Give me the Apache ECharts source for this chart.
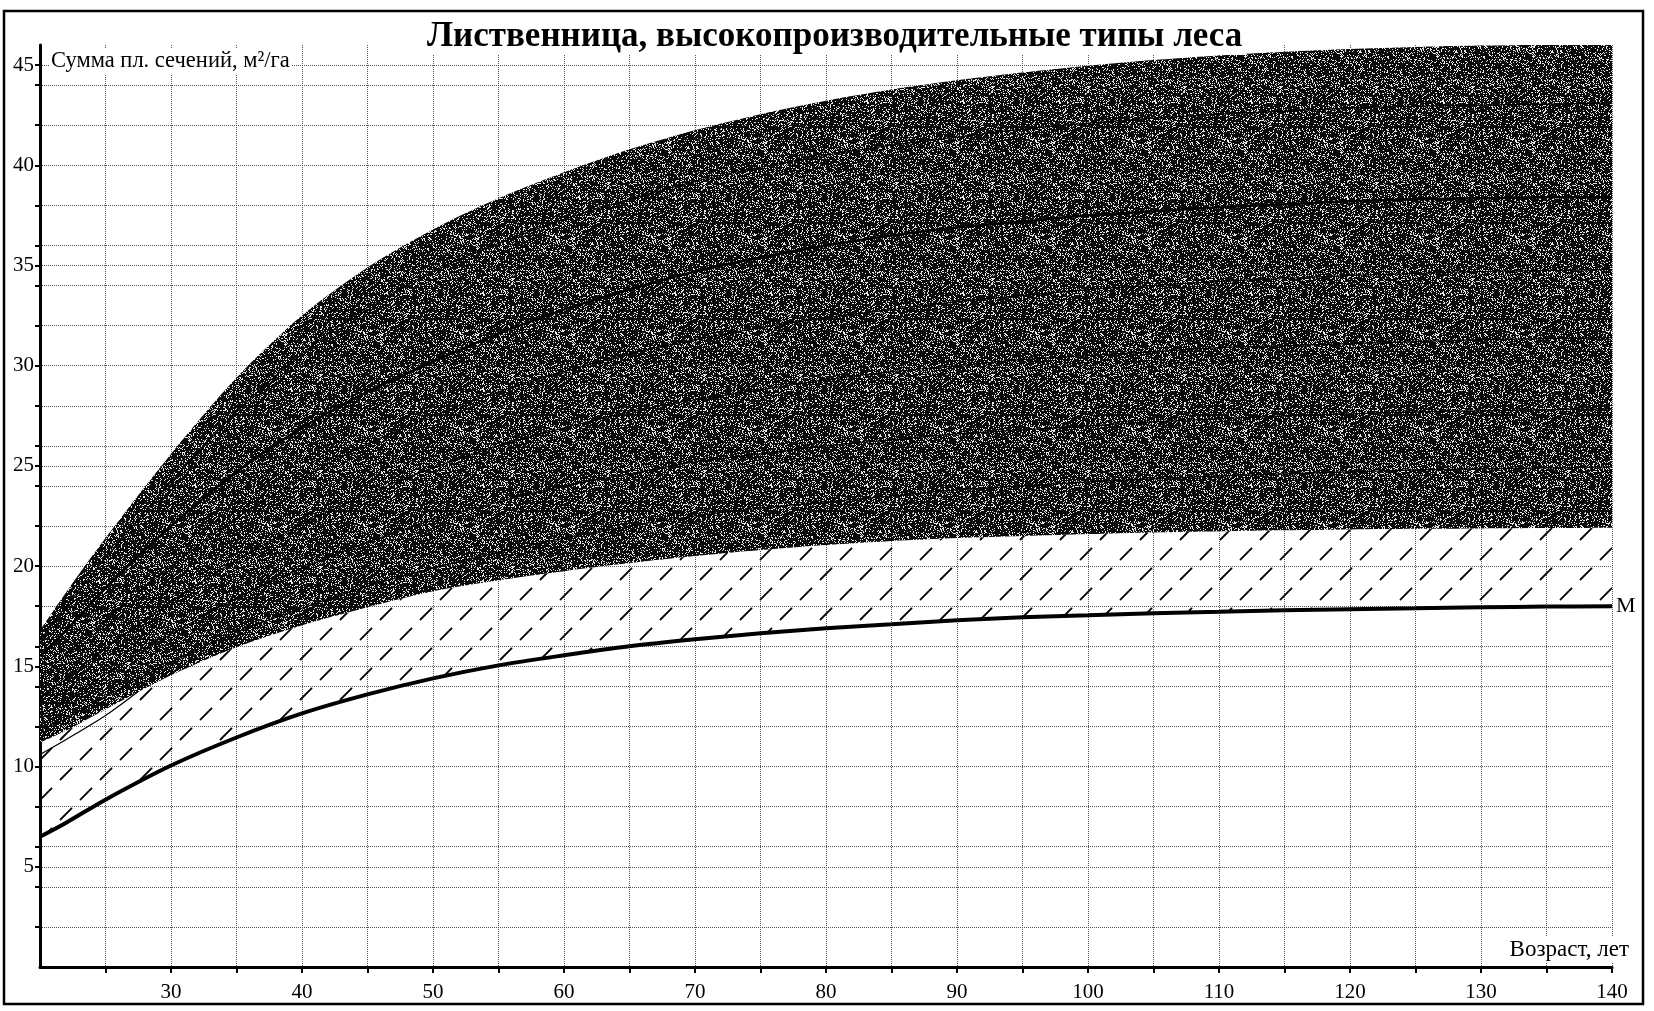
<!DOCTYPE html>
<html><head><meta charset="utf-8">
<script src="https://cdn.jsdelivr.net/npm/echarts@6/dist/echarts.min.js"></script>
<style>html,body{margin:0;padding:0;background:#fff}#c{width:1654px;height:1011px}</style>
</head><body><div id="c"></div>
<script>
// ---- data ----
const ages = [20,22,25,30,35,40,45,50,55,60,65,70,75,80,85,90,95,100,105,110,115,120,125,130,135,140];
const valueM    = [6.5,7.2,8.35,10.05,11.45,12.65,13.6,14.4,15.05,15.55,16.0,16.35,16.65,16.9,17.1,17.3,17.45,17.55,17.65,17.72,17.8,17.85,17.9,17.95,17.98,18.0];
const darkLower = [11.2,11.8,12.85,14.55,15.95,17.05,17.95,18.75,19.3,19.75,20.15,20.5,20.8,21.05,21.25,21.4,21.5,21.6,21.68,21.74,21.79,21.83,21.86,21.88,21.9,21.92];
const darkUpper = [16.8,18.7,21.4,25.6,29.4,32.5,34.9,36.8,38.35,39.65,40.8,41.75,42.55,43.22,43.78,44.24,44.63,44.97,45.25,45.48,45.66,45.8,45.9,45.97,46.0,46.0];
const curve1    = [16.3,18.0,20.4,24.2,27.7,30.6,32.9,34.7,36.1,37.3,38.3,39.2,39.9,40.5,41.0,41.4,41.8,42.1,42.35,42.55,42.7,42.85,42.95,43.0,43.05,43.1];
const curveMain = [15.5,16.8,18.9,22.0,24.7,26.9,28.7,30.2,31.6,32.8,33.8,34.7,35.4,36.0,36.5,36.9,37.2,37.5,37.7,37.9,38.05,38.2,38.3,38.35,38.4,38.4];
const curve3    = [14.4,15.6,17.3,20.0,22.4,24.4,26.1,27.5,28.7,29.7,30.6,31.3,31.9,32.4,32.8,33.2,33.5,33.8,34.0,34.2,34.35,34.5,34.6,34.7,34.75,34.8];
const curve4    = [13.4,14.4,15.9,18.2,20.3,22.1,23.6,24.9,26.0,26.9,27.7,28.3,28.8,29.3,29.7,30.0,30.3,30.5,30.7,30.9,31.0,31.1,31.2,31.3,31.35,31.4];
const curve5    = [12.5,13.3,14.6,16.6,18.4,19.9,21.2,22.3,23.2,24.0,24.6,25.2,25.6,26.0,26.3,26.6,26.8,27.0,27.2,27.35,27.5,27.6,27.7,27.75,27.8,27.85];
const curve6    = [11.8,12.4,13.5,15.2,16.7,17.9,19.0,19.9,20.7,21.4,22.0,22.5,22.9,23.2,23.5,23.8,24.0,24.2,24.35,24.5,24.6,24.7,24.8,24.85,24.9,24.95];
const thinAges  = [20,22,25,27.5];
const thinVals  = [10.6,11.35,12.55,13.75];
const xLabelValues = [30,40,50,60,70,80,90,100,110,120,130,140];
const xTickValues  = [25,30,35,40,45,50,55,60,65,70,75,80,85,90,95,100,105,110,115,120,125,130,135,140];
const yLabelValues = [5,10,15,20,25,30,35,40,45];
const yTickValues  = [2,4,5,6,8,10,12,14,15,16,18,20,22,24,25,26,28,30,32,34,35,36,38,40,42,44,45];

// ---- fill patterns (style only) ----
function hatchPattern(){
  const c=document.createElement('canvas');c.width=40;c.height=40;
  const g=c.getContext('2d');
  g.strokeStyle='#000';g.lineWidth=1.8;g.setLineDash([17,11.284]);
  [0,40,80].forEach(cc=>{g.beginPath();g.moveTo(-40,cc+40);g.lineTo(80,cc-80);g.stroke();});
  return c;
}
function darkPattern(){
  const n=96,c=document.createElement('canvas');c.width=n;c.height=n;
  const g=c.getContext('2d');const im=g.createImageData(n,n);
  for(let y=0;y<n;y++)for(let x=0;x<n;x++){
    let h=(x*374761393+y*668265263)|0;h=Math.imul(h^(h>>>13),1274126177);h^=h>>>16;
    const r=(h>>>0)/4294967296;const v=r<0.2?230:10;
    const i=(y*n+x)*4;im.data[i]=v;im.data[i+1]=v;im.data[i+2]=v;im.data[i+3]=255;
  }
  g.putImageData(im,0,0);return c;
}
const pair=(xs,ys)=>xs.map((x,i)=>[x,ys[i]]);
// stacked bands: value first (dim 0 -> y), age second (dim 1 -> x) so the stack applies to y
const baseRows =ages.map((x,i)=>[valueM[i],x]);
const hatchRows=ages.map((x,i)=>[+(darkLower[i]-valueM[i]).toFixed(3),x]);
const darkRows =ages.map((x,i)=>[+(darkUpper[i]-darkLower[i]).toFixed(3),x]);
const FONT='"Liberation Serif", "Times New Roman", serif';
const SM=0.3;

const chart=echarts.init(document.getElementById('c'),null,{renderer:'canvas'});
const thinLine=(d,w)=>({type:'line',data:d,smooth:SM,symbol:'none',silent:true,lineStyle:{color:'#000',width:w},z:4});
const band=(rows,area,z)=>({type:'line',data:rows,encode:{x:1,y:0},stack:'zone',smooth:SM,symbol:'none',silent:true,
  lineStyle:{width:0,opacity:0},areaStyle:area,z:z});
chart.setOption({
  animation:false,
  backgroundColor:'#fff',
  title:{text:'Лиственница, высокопроизводительные типы леса',left:423,top:19,padding:[0,4],backgroundColor:'#fff',
    textStyle:{fontFamily:FONT,fontWeight:'bold',fontSize:35,color:'#000',lineHeight:36}},
  grid:{left:40,right:42,top:45,bottom:44,containLabel:false},
  xAxis:{type:'value',min:20,max:140,interval:2,
    axisLine:{show:true,onZero:false,lineStyle:{color:'#000',width:3}},
    axisTick:{show:true,customValues:xTickValues,length:6,lineStyle:{color:'#000',width:2}},
    axisLabel:{customValues:xLabelValues,color:'#000',fontFamily:FONT,fontSize:21,margin:15},
    splitLine:{show:true,lineStyle:{type:'dotted',color:'#555',width:1}}},
  yAxis:{type:'value',min:0,max:46,interval:1,
    axisLine:{show:true,onZero:false,lineStyle:{color:'#000',width:3}},
    axisTick:{show:true,customValues:yTickValues,length:5,lineStyle:{color:'#000',width:2}},
    axisLabel:{customValues:yLabelValues,color:'#000',fontFamily:FONT,fontSize:21,margin:6},
    splitLine:{show:true,lineStyle:{type:'dotted',color:'#555',width:1}}},
  graphic:[
    {type:'rect',shape:{x:4,y:11,width:1639,height:993},style:{fill:null,stroke:'#000',lineWidth:2.5},z:0,silent:true},
    {type:'text',x:49,y:49,z:10,style:{text:'Сумма пл. сечений, м²/га',font:'22.5px '+FONT,fill:'#000',backgroundColor:'#fff',padding:[1,2]}},
    {type:'text',x:1631,y:962,z:10,style:{text:'Возраст, лет',font:'23px '+FONT,fill:'#000',align:'right',verticalAlign:'bottom',backgroundColor:'#fff',padding:[1,2]}}
  ],
  series:[
    band(baseRows,null,1),
    band(hatchRows,{color:{image:hatchPattern(),repeat:'repeat'},opacity:1},1),
    band(darkRows,{color:{image:darkPattern(),repeat:'repeat'},opacity:1},2),
    thinLine(pair(ages,curve1),1.2),
    thinLine(pair(ages,curveMain),2.5),
    thinLine(pair(ages,curve3),1.2),
    thinLine(pair(ages,curve4),1.2),
    thinLine(pair(ages,curve5),1.2),
    thinLine(pair(ages,curve6),1.2),
    thinLine(pair(thinAges,thinVals),1.2),
    {type:'line',name:'M',data:pair(ages,valueM),smooth:SM,symbol:'none',silent:true,
      lineStyle:{color:'#000',width:4},z:5,
      endLabel:{show:true,formatter:'M',color:'#000',fontFamily:FONT,fontSize:22,distance:4}}
  ]
});
</script></body></html>
